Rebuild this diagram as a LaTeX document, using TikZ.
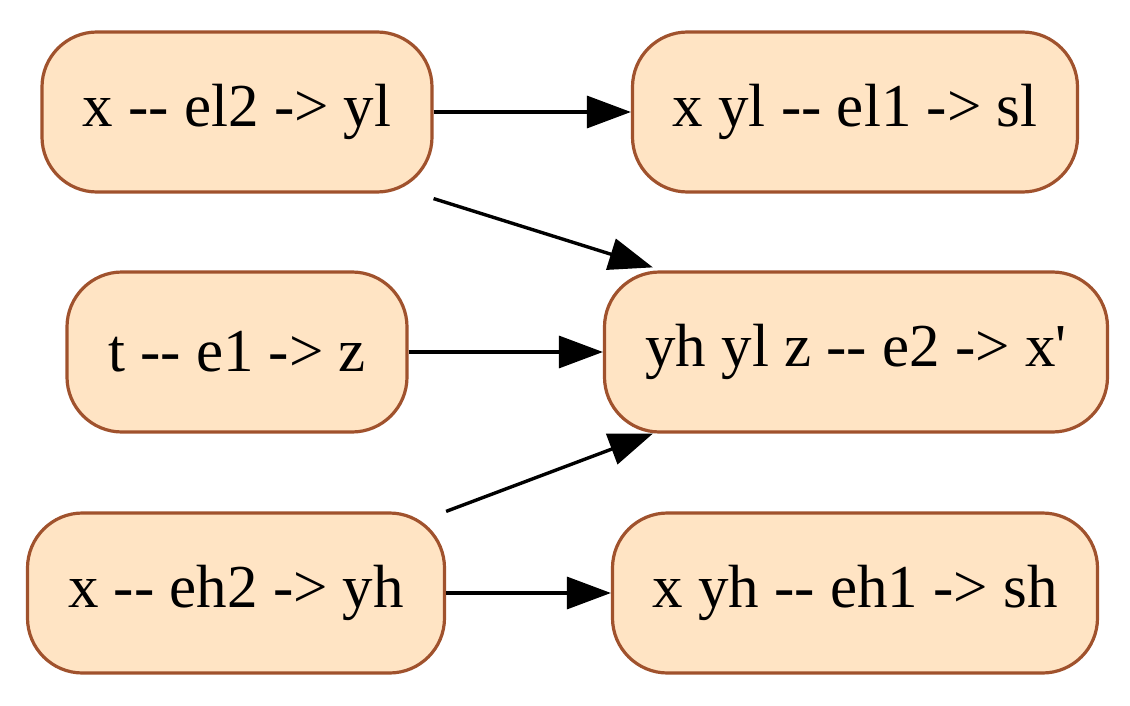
\documentclass[tikz,border=0pt]{standalone}
\usepackage{fontspec}
\setmainfont{Liberation Serif}
\usetikzlibrary{arrows.meta}
\definecolor{sienna}{RGB}{160,82,45}
\definecolor{bisque}{RGB}{255,228,196}
\newcommand{\dd}{-{}-}
\begin{document}
\begin{tikzpicture}[x=1pt,y=-1pt,
  box/.style={draw=sienna, fill=bisque, line width=3.2pt, rounded corners=55pt, minimum height=160pt, inner sep=0pt, font=\fontsize{61}{66}\selectfont},
  arr/.style={line width=3.4pt, -{Triangle[length=44pt,width=32pt]}}]
\useasboundingbox (0,0) rectangle (1130,706);
\node[box, minimum width=390pt] (A) at (237,112) {x \dd{} el2 -> yl};
\node[box, minimum width=445pt] (B) at (855,112) {x yl \dd{} el1 -> sl};
\node[box, minimum width=340pt] (C) at (237,352) {t \dd{} e1 -> z};
\node[box, minimum width=503pt] (D) at (856,352) {yh yl z \dd{} e2 -> x\textquotesingle};
\node[box, minimum width=417pt] (E) at (236,593) {x \dd{} eh2 -> yh};
\node[box, minimum width=485pt] (F) at (855,593) {x yh \dd{} eh1 -> sh};
\draw[arr] (A.east) -- (B.west);
\draw[arr] ([yshift=-5pt]A.south east) -- ([xshift=50pt,yshift=3pt]D.north west);
\draw[arr] (C.east) -- (D.west);
\draw[arr] (E.north east) -- ([xshift=50pt]D.south west);
\draw[arr] (E.east) -- (F.west);
\end{tikzpicture}
\end{document}
